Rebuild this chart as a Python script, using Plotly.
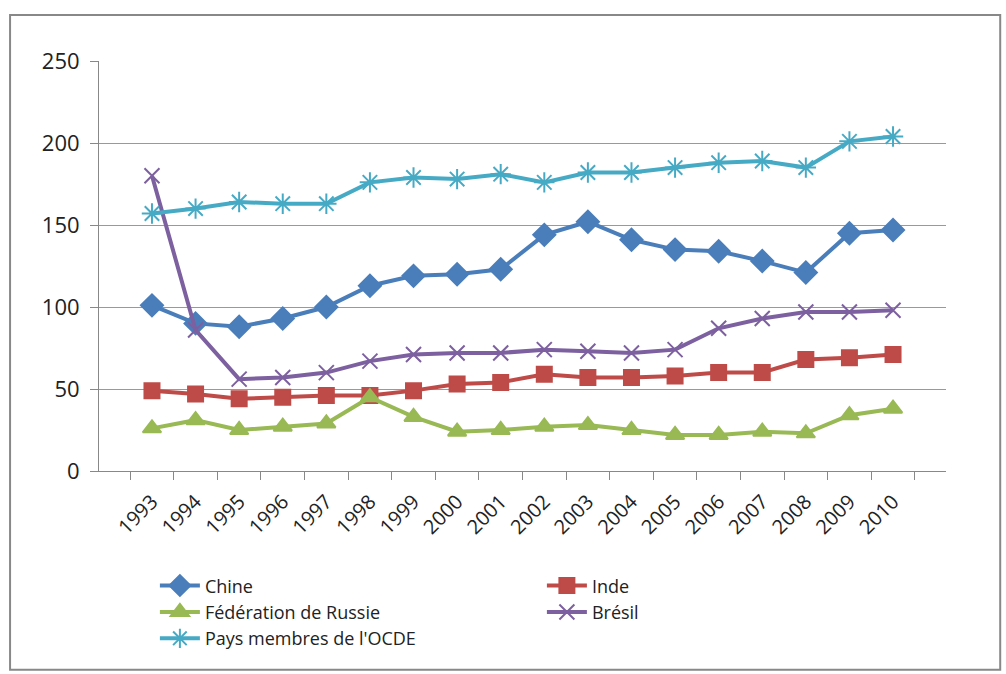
import plotly.graph_objects as go

years = [str(y) for y in range(1993, 2011)]

chine = [101, 90, 88, 93, 100, 113, 119, 120, 123, 144, 152, 141, 135, 134, 128, 121, 145, 147]
inde = [49, 47, 44, 45, 46, 46, 49, 53, 54, 59, 57, 57, 58, 60, 60, 68, 69, 71]
russie = [26, 31, 25, 27, 29, 45, 33, 24, 25, 27, 28, 25, 22, 22, 24, 23, 34, 38]
bresil = [180, 86, 56, 57, 60, 67, 71, 72, 72, 74, 73, 72, 74, 87, 93, 97, 97, 98]
ocde = [157, 160, 164, 163, 163, 176, 179, 178, 181, 176, 182, 182, 185, 188, 189, 185, 201, 204]

series = [
    ("Chine", chine, "#4A7EBB", "diamond", 17),
    ("Inde", inde, "#BE4B48", "square", 15),
    ("Fédération de Russie", russie, "#98B954", "triangle-up", 16),
    ("Brésil", bresil, "#7D60A0", "x-thin-open", 15),
    ("Pays membres de l'OCDE", ocde, "#46AAC5", "asterisk-open", 17),
]

fig = go.Figure()
for name, vals, color, sym, size in series:
    fig.add_trace(go.Scatter(
        x=years, y=vals, name=name, mode="lines+markers",
        line=dict(color=color, width=4),
        marker=dict(symbol=sym, size=size, color=color,
                    line=dict(color=color, width=2)),
    ))

fig.update_layout(
    width=1006, height=674,
    margin=dict(l=99, r=60, t=61, b=203, autoexpand=False),
    paper_bgcolor="white", plot_bgcolor="white",
    font=dict(family="Open Sans, Noto Sans, sans-serif", size=17, color="#222"),
    showlegend=True,
    legend=dict(orientation="h", x=0.066, y=-0.235, xanchor="left", yanchor="top",
                entrywidth=332, entrywidthmode="pixels", bgcolor="rgba(0,0,0,0)",
                font=dict(size=18), tracegroupgap=0, itemwidth=40),
    shapes=[dict(type="rect", xref="paper", yref="paper",
                 x0=-0.105, x1=1.064, y0=-0.485, y1=1.112,
                 line=dict(color="#888", width=2), fillcolor="rgba(0,0,0,0)")],
)
fig.update_xaxes(
    type="category", tickangle=-45, showgrid=False,
    showline=True, linecolor="#888", linewidth=1,
    ticks="outside", tickson="boundaries", ticklen=8, tickcolor="#888",
    tickfont=dict(size=20), ticklabelstandoff=10,
)
fig.update_yaxes(
    range=[0, 250], dtick=50, showgrid=True, gridcolor="#999", gridwidth=1,
    showline=True, linecolor="#888", linewidth=1, zeroline=False,
    ticks="outside", ticklen=8, tickcolor="#888", tickfont=dict(size=22),
    ticklabelstandoff=6,
)

fig.write_html("out.html", config={"displayModeBar": False},
               post_script="document.body.style.margin='0';")
